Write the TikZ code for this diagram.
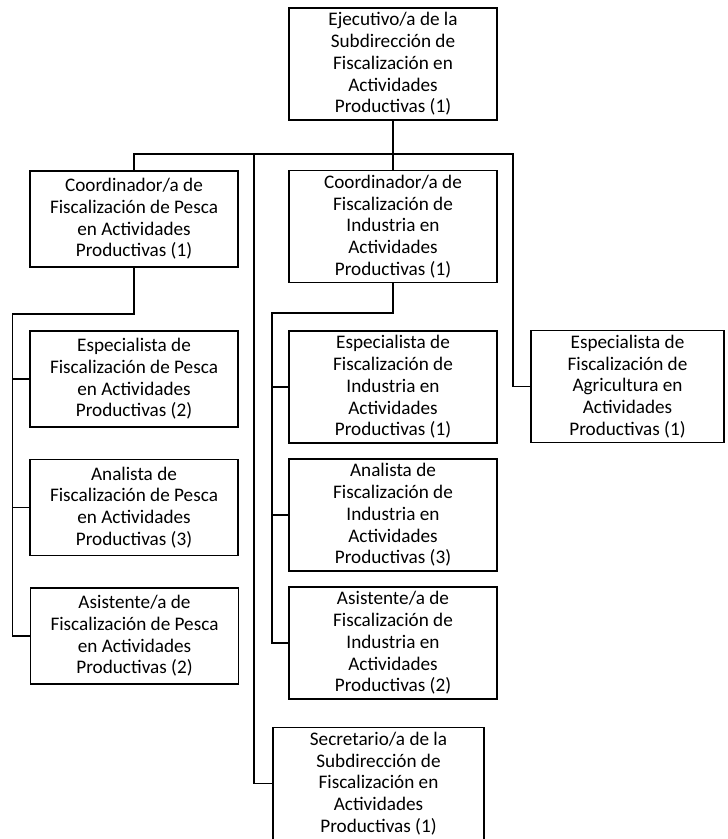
\documentclass[tikz,border=0pt]{standalone}
\usepackage{fontspec}
\setmainfont{Carlito}
\usepackage{tikz}
\usetikzlibrary{positioning}

\begin{document}
\begin{tikzpicture}[x=1pt, y=-1pt, line width=1.3pt,
    puesto/.style={draw, align=center, inner sep=0pt, outer sep=0pt,
        minimum width=208pt, minimum height=112pt,
        font=\fontsize{19.2}{21.7}\selectfont},
    corto/.style={puesto, minimum height=96pt}]
    \useasboundingbox (0,0) rectangle (728,839);
    \node[puesto] (ej) at (393,64) {Ejecutivo/a de la\\Subdirección de\\Fiscalización en\\Actividades\\Productivas (1)};
    \node[corto] (cp) at (134,219) {Coordinador/a de\\Fiscalización de Pesca\\en Actividades\\Productivas (1)};
    \node[puesto] (ci) at (393,226.5) {Coordinador/a de\\Fiscalización de\\Industria en\\Actividades\\Productivas (1)};
    \node[corto] (esp) at (134,379) {Especialista de\\Fiscalización de Pesca\\en Actividades\\Productivas (2)};
    \node[corto] (anp) at (134,507.5) {Analista de\\Fiscalización de Pesca\\en Actividades\\Productivas (3)};
    \node[corto] (asp) at (134.5,636) {Asistente/a de\\Fiscalización de Pesca\\en Actividades\\Productivas (2)};
    \node[puesto] (esi) at (393,387) {Especialista de\\Fiscalización de\\Industria en\\Actividades\\Productivas (1)};
    \node[puesto] (ani) at (393,515) {Analista de\\Fiscalización de\\Industria en\\Actividades\\Productivas (3)};
    \node[puesto] (asi) at (393,643) {Asistente/a de\\Fiscalización de\\Industria en\\Actividades\\Productivas (2)};
    \node[puesto, minimum width=193pt] (agr) at (627.5,386.5) {Especialista de\\Fiscalización de\\Agricultura en\\Actividades\\Productivas (1)};
    \node[puesto, minimum width=211pt] (sec) at (378.5,783.5) {Secretario/a de la\\Subdirección de\\Fiscalización en\\Actividades\\Productivas (1)};

    \coordinate (bus) at (393,154);
    \coordinate (busder) at (513,154);
    \coordinate (bussec) at (254,154);
    \coordinate (ejep) at (12.5,314);
    \coordinate (ejei) at (272,313);

    \draw (ej.south) -- (bus);
    \draw (cp.north) |- (bus) -- (busder) |- (agr.west);
    \draw (bus) -- (ci.north);
    \draw (bussec) |- (sec.west);
    \draw (cp.south) |- (ejep) |- (asp.west);
    \draw (ejep) |- (esp.west);
    \draw (ejep) |- (anp.west);
    \draw (ci.south) |- (ejei) |- (asi.west);
    \draw (ejei) |- (esi.west);
    \draw (ejei) |- (ani.west);
\end{tikzpicture}
\end{document}
